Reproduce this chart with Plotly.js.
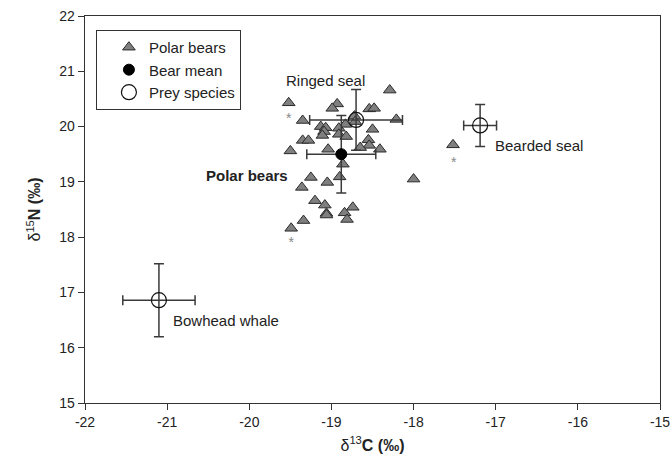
<!DOCTYPE html>
<html>
<head>
<meta charset="utf-8">
<script src="https://cdn.plot.ly/plotly-3.0.1.min.js"></script>
<style>html,body{margin:0;padding:0;background:#fff;}#chart{width:672px;height:461px;}</style>
</head>
<body>
<div id="chart"></div>
<script>
// Individual polar bears
const bearC = [-18.29,-19.52,-18.93,-18.99,-18.54,-18.48,-19.35,-18.21,-18.72,-18.71,-18.83,-19.13,-19.07,-19.09,-19.11,-18.91,-18.91,-18.82,-18.50,-18.55,-18.54,-18.41,-18.65,-19.35,-19.28,-19.50,-19.04,-18.86,-18.90,-19.25,-19.05,-19.36,-18.00,-17.52,-19.20,-19.08,-19.06,-19.06,-18.84,-18.74,-18.81,-19.34,-19.49];
const bearN = [20.66,20.43,20.41,20.33,20.32,20.33,20.11,20.13,20.19,20.09,20.04,20.00,19.98,19.91,19.84,19.97,19.86,19.82,19.95,19.76,19.66,19.59,19.62,19.75,19.75,19.56,19.59,19.32,19.09,19.08,18.99,18.90,19.05,19.67,18.66,18.58,18.43,18.40,18.44,18.54,18.32,18.30,18.16];

// Bear mean with SD
const meanC = [-18.88];
const meanN = [19.50];
const meanCsd = [0.42];
const meanNsd = [0.70];

// Prey species with SD
const preyNames = ["Ringed seal","Bearded seal","Bowhead whale"];
const preyC = [-18.70,-17.19,-21.10];
const preyN = [20.12,20.02,16.86];
const preyCsd = [0.565,0.20,0.44];
const preyNsd = [0.55,0.38,0.66];

// Asterisks
const starC = [-19.52,-19.49,-17.51];
const starN = [20.13,17.89,19.34];

// Tick labels
const xTickVals = [-22,-21,-20,-19,-18,-17,-16,-15];
const xTickText = ["-22","-21","-20","-19","-18","-17","-16","-15"];
const yTickVals = [15,16,17,18,19,20,21,22];
const yTickText = ["15","16","17","18","19","20","21","22"];

const FONT = "Arial, 'Liberation Sans', sans-serif";
const ERR = "#3a3a3a";

const traces = [
  {x: bearC, y: bearN, type: "scatter", mode: "markers", name: "Polar bears",
   marker: {symbol: "triangle-up", size: 11, color: "#7f7f7f", line: {color: "#2a2a2a", width: 1}}},
  {x: starC, y: starN, type: "scatter", mode: "text", text: starC.map(() => "*"), showlegend: false,
   textfont: {family: FONT, size: 14, color: "#888"}, hoverinfo: "skip"},
  {x: meanC, y: meanN, type: "scatter", mode: "markers", name: "Bear mean",
   error_x: {type: "data", array: meanCsd, color: ERR, thickness: 1.5, width: 5},
   error_y: {type: "data", array: meanNsd, color: ERR, thickness: 1.5, width: 5},
   marker: {symbol: "circle", size: 11, color: "#000", line: {color: "#000", width: 1}}},
  {x: preyC, y: preyN, type: "scatter", mode: "markers", name: "Prey species",
   error_x: {type: "data", array: preyCsd, color: ERR, thickness: 1.5, width: 5},
   error_y: {type: "data", array: preyNsd, color: ERR, thickness: 1.5, width: 5},
   marker: {symbol: "circle-open", size: 15, color: "#111", line: {color: "#111", width: 1.2}}}
];

const layout = {
  width: 672, height: 461,
  margin: {l: 85, r: 12, t: 16, b: 58},
  paper_bgcolor: "#fff", plot_bgcolor: "#fff",
  font: {family: FONT, size: 14, color: "#222"},
  showlegend: true,
  legend: {x: 0.019, y: 0.964, xanchor: "left", yanchor: "top",
    bgcolor: "#fff", bordercolor: "#333", borderwidth: 1,
    font: {family: FONT, size: 15, color: "#222"}, indentation: 12, tracegroupgap: 0},
  xaxis: {range: [-22, -15], tickmode: "array", tickvals: xTickVals, ticktext: xTickText,
    showgrid: false, zeroline: false, ticklabeloverflow: "allow",
    showline: true, linecolor: "#333", linewidth: 1.3, mirror: true,
    ticks: "outside", ticklen: 6, tickcolor: "#333", tickfont: {family: FONT, size: 14, color: "#222"},
    title: {text: "δ<sup>13</sup><b>C (‰)</b>", font: {family: FONT, size: 16, color: "#222"}, standoff: 10}},
  yaxis: {range: [15, 22], tickmode: "array", tickvals: yTickVals, ticktext: yTickText,
    showgrid: false, zeroline: false, ticklabeloverflow: "allow",
    showline: true, linecolor: "#333", linewidth: 1.3, mirror: true,
    ticks: "outside", ticklen: 6, tickcolor: "#333", tickfont: {family: FONT, size: 14, color: "#222"},
    title: {text: "δ<sup>15</sup><b>N (‰)</b>", font: {family: FONT, size: 16, color: "#222"}, standoff: 14}},
  annotations: [
    {x: -19.07, y: 20.83, text: preyNames[0], showarrow: false, xanchor: "center", yanchor: "middle",
     font: {family: FONT, size: 15, color: "#222"}},
    {x: -17.03, y: 19.65, text: preyNames[1], showarrow: false, xanchor: "left", yanchor: "middle",
     font: {family: FONT, size: 15, color: "#222"}},
    {x: -20.95, y: 16.49, text: preyNames[2], showarrow: false, xanchor: "left", yanchor: "middle",
     font: {family: FONT, size: 15, color: "#222"}},
    {x: -19.51, y: 19.11, text: "<b>Polar bears</b>", showarrow: false, xanchor: "right", yanchor: "middle",
     font: {family: FONT, size: 15, color: "#222"}}
  ]
};

Plotly.newPlot("chart", traces, layout, {displayModeBar: false, staticPlot: true});
</script>
</body>
</html>
